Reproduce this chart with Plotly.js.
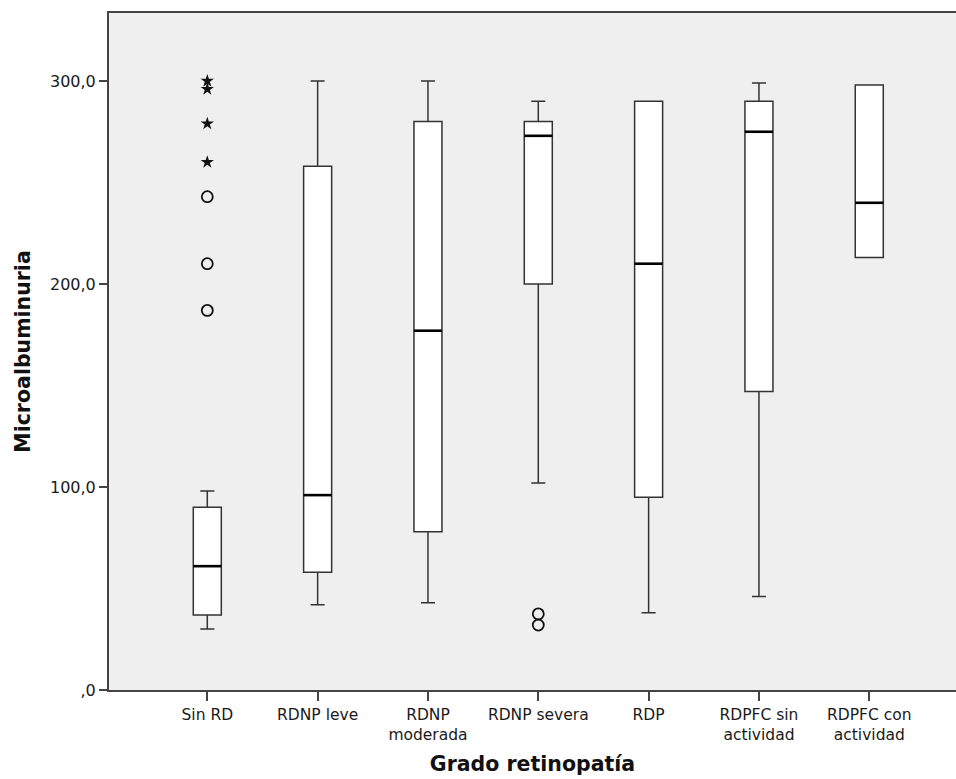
<!DOCTYPE html>
<html>
<head>
<meta charset="utf-8">
<script src="https://cdn.plot.ly/plotly-3.0.1.min.js"></script>
<style>html,body{margin:0;padding:0;background:#fff;}#chart{width:956px;height:779px;}</style>
</head>
<body>
<div id="chart"></div>
<script>
// Categories (x axis)
const categories = ["Sin RD", "RDNP leve", "RDNP moderada", "RDNP severa", "RDP", "RDPFC sin actividad", "RDPFC con actividad"];
const tickLabels = ["Sin RD", "RDNP leve", "RDNP<br>moderada", "RDNP severa", "RDP", "RDPFC sin<br>actividad", "RDPFC con<br>actividad"];

// Box statistics (Microalbuminuria)
const lowerWhisker = [30, 42, 43, 102, 38, 46, 213];
const q1Values     = [37, 58, 78, 200, 95, 147, 213];
const medianValues = [61, 96, 177, 273, 210, 275, 240];
const q3Values     = [90, 258, 280, 280, 290, 290, 298];
const upperWhisker = [98, 300, 300, 290, 290, 299, 298];

// Outliers
const outlierCircleX = ["Sin RD", "Sin RD", "Sin RD", "RDNP severa", "RDNP severa"];
const outlierCircleY = [243, 210, 187, 37.5, 32];
const extremeStarX = ["Sin RD", "Sin RD", "Sin RD", "Sin RD"];
const extremeStarY = [300, 296, 279, 260];

// Y ticks
const yTickVals = [0, 100, 200, 300];
const yTickText = [",0", "100,0", "200,0", "300,0"];

const boxWidth = 0.254;
const font = "DejaVu Sans, sans-serif";

const boxTrace = {
  type: "box",
  x: categories,
  q1: q1Values,
  median: medianValues,
  q3: q3Values,
  lowerfence: lowerWhisker,
  upperfence: upperWhisker,
  width: boxWidth,
  whiskerwidth: 0.5,
  fillcolor: "#ffffff",
  line: {color: "#333333", width: 1.5},
  boxpoints: false,
  hoverinfo: "skip",
  showlegend: false
};

const circleTrace = {
  type: "scatter", mode: "markers",
  x: outlierCircleX, y: outlierCircleY,
  marker: {symbol: "circle-open", size: 11, color: "#111", line: {width: 1.8, color: "#111"}},
  showlegend: false, hoverinfo: "skip"
};

const starTrace = {
  type: "scatter", mode: "markers",
  x: extremeStarX, y: extremeStarY,
  marker: {symbol: "star", size: 10, color: "#111", line: {width: 0}},
  showlegend: false, hoverinfo: "skip"
};

// Thicker median lines (SPSS style), built from the median data
const medianShapes = medianValues.map((m, i) => ({
  type: "line", xref: "x", yref: "y",
  x0: i - boxWidth / 2, x1: i + boxWidth / 2, y0: m, y1: m,
  line: {color: "#000", width: 2.6}, layer: "above"
}));

const layout = {
  width: 956, height: 779,
  margin: {l: 109, r: 0, t: 13, b: 89},
  paper_bgcolor: "#ffffff",
  plot_bgcolor: "#efefef",
  font: {family: font, size: 16, color: "#1a1a1a"},
  showlegend: false,
  shapes: medianShapes,
  xaxis: {
    type: "category",
    categoryorder: "array", categoryarray: categories,
    range: [-0.891, 6.786],
    tickvals: categories, ticktext: tickLabels,
    ticks: "outside", ticklen: 9, tickwidth: 2, tickcolor: "#444",
    showline: true, linecolor: "#444", linewidth: 2, mirror: true,
    showgrid: false, zeroline: false,
    tickfont: {family: font, size: 15.5, color: "#1a1a1a"},
    title: {text: "<b>Grado retinopatía</b>", font: {family: font, size: 20.5, color: "#111"}, standoff: 14},
    automargin: false
  },
  yaxis: {
    range: [0, 333.5],
    tickvals: yTickVals, ticktext: yTickText,
    ticks: "outside", ticklen: 8, tickwidth: 2, tickcolor: "#444",
    showline: true, linecolor: "#444", linewidth: 2, mirror: true,
    showgrid: false, zeroline: false,
    tickfont: {family: font, size: 16, color: "#1a1a1a"},
    title: {text: "<b>Microalbuminuria</b>", font: {family: font, size: 20.5, color: "#111"}, standoff: 14},
    automargin: false
  }
};

Plotly.newPlot("chart", [boxTrace, circleTrace, starTrace], layout, {staticPlot: true, displayModeBar: false});
</script>
</body>
</html>
